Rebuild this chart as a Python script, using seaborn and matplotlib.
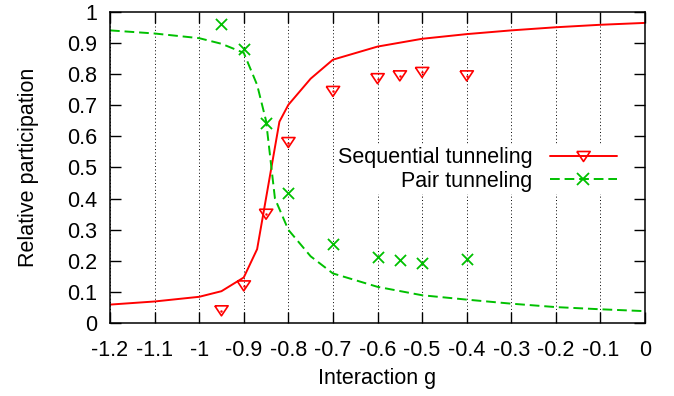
import matplotlib
matplotlib.use("Agg")
import matplotlib.pyplot as plt
from matplotlib.lines import Line2D
from matplotlib.markers import MarkerStyle
import seaborn as sns
import pandas as pd

# ---- theory curves ----
seq_g = [-1.2, -1.1, -1.0, -0.95, -0.9, -0.87, -0.82, -0.8, -0.75, -0.7,
         -0.6, -0.5, -0.4, -0.3, -0.2, -0.1, 0.0]
seq_val = [0.060, 0.070, 0.085, 0.103, 0.147, 0.238, 0.647, 0.701, 0.785, 0.846,
           0.888, 0.913, 0.928, 0.940, 0.950, 0.958, 0.964]
pair_g = [-1.2, -1.1, -1.0, -0.95, -0.9, -0.87, -0.85, -0.83, -0.8, -0.75, -0.7,
          -0.6, -0.5, -0.4, -0.3, -0.2, -0.1, 0.0]
pair_val = [0.940, 0.930, 0.915, 0.897, 0.868, 0.765, 0.650, 0.400, 0.300, 0.215, 0.160,
            0.117, 0.090, 0.076, 0.063, 0.052, 0.045, 0.039]

# ---- simulation points ----
sim_g = [-0.95, -0.9, -0.85, -0.8, -0.7, -0.6, -0.55, -0.5, -0.4]
sim_seq = [0.040, 0.120, 0.350, 0.580, 0.744, 0.785, 0.794, 0.805, 0.794]
sim_pair = [0.960, 0.880, 0.644, 0.417, 0.253, 0.213, 0.203, 0.194, 0.205]

# ---- ticks ----
xtick_vals = [-1.2, -1.1, -1.0, -0.9, -0.8, -0.7, -0.6, -0.5, -0.4, -0.3, -0.2, -0.1, 0.0]
xtick_labels = ["-1.2", "-1.1", "-1", "-0.9", "-0.8", "-0.7", "-0.6", "-0.5", "-0.4",
                "-0.3", "-0.2", "-0.1", "0"]
ytick_vals = [0, 0.1, 0.2, 0.3, 0.4, 0.5, 0.6, 0.7, 0.8, 0.9, 1.0]
ytick_labels = ["0", "0.1", "0.2", "0.3", "0.4", "0.5", "0.6", "0.7", "0.8", "0.9", "1"]

RED = "#ff0000"
GREEN = "#00c000"
FS = 15.5

sns.set_theme(style="ticks")
plt.rcParams["font.family"] = ["Liberation Sans", "DejaVu Sans"]
plt.rcParams["text.color"] = "black"
plt.rcParams["axes.labelcolor"] = "black"

fig = plt.figure(figsize=(6.74, 3.96), dpi=100)
ax = fig.add_axes([0.1632, 0.1836, 0.7938, 0.7869])

seq_df = pd.DataFrame({"g": seq_g, "v": seq_val})
pair_df = pd.DataFrame({"g": pair_g, "v": pair_val})
sim_df = pd.DataFrame({"g": sim_g, "seq": sim_seq, "pair": sim_pair})

tri = MarkerStyle([(-1, 0.75), (1, 0.75), (0, -0.75), (-1, 0.75)])

sns.lineplot(data=seq_df, x="g", y="v", ax=ax, color=RED, lw=1.4, sort=False)
sns.lineplot(data=pair_df, x="g", y="v", ax=ax, color=GREEN, lw=1.4, sort=False,
             dashes=False)
ax.lines[-1].set_dashes((5, 2.5))

sns.scatterplot(data=sim_df, x="g", y="seq", ax=ax, marker=tri, s=92,
                facecolor="none", edgecolor=RED, linewidth=1.2, zorder=4)
sns.scatterplot(data=sim_df, x="g", y="seq", ax=ax, marker="o", s=2,
                color=RED, edgecolor=RED, linewidth=0.3, zorder=4)
sns.scatterplot(data=sim_df, x="g", y="pair", ax=ax, marker="x", s=64,
                color=GREEN, linewidth=1.3, zorder=4)

ax.set_xlim(-1.2, 0)
ax.set_ylim(0, 1)
ax.set_xticks(xtick_vals)
ax.set_xticklabels(xtick_labels)
ax.set_yticks(ytick_vals)
ax.set_yticklabels(ytick_labels)

ax.tick_params(direction="in", length=8, width=1.0, top=True, right=True,
               labelsize=FS, color="black", labelcolor="black")
ax.tick_params(axis="x", pad=12)
ax.tick_params(axis="y", pad=9.5)
for sp in ax.spines.values():
    sp.set_visible(True)
    sp.set_linewidth(1.1)
    sp.set_color("black")

ax.xaxis.grid(True, linestyle=(0, (1, 2.5)), color="black", lw=0.7)
ax.yaxis.grid(False)

ax.set_xlabel("Interaction g", fontsize=FS, labelpad=5, color="black")
ax.set_ylabel("Relative participation", fontsize=FS, labelpad=20, color="black")

h1 = Line2D([], [], color=RED, lw=1.4, marker=tri, markersize=9.6,
            markerfacecolor="none", markeredgecolor=RED, markeredgewidth=1.2)
h2 = Line2D([], [], color=GREEN, lw=1.4, dashes=(5, 2.5), marker="x",
            markersize=8, markeredgewidth=1.3)
leg = ax.legend([h1, h2], ["Sequential tunneling", "Pair tunneling"],
                loc="upper right", bbox_to_anchor=(0.951, 0.572),
                markerfirst=False, numpoints=1, handlelength=3.1,
                handletextpad=0.8, labelspacing=0.12, borderpad=0.1,
                borderaxespad=0, frameon=True, fancybox=False, fontsize=FS)
fr = leg.get_frame()
fr.set_edgecolor("none")
fr.set_facecolor("white")
fr.set_alpha(1)
for t in leg.get_texts():
    t.set_color("black")

fig.savefig("out.png", dpi=100)
